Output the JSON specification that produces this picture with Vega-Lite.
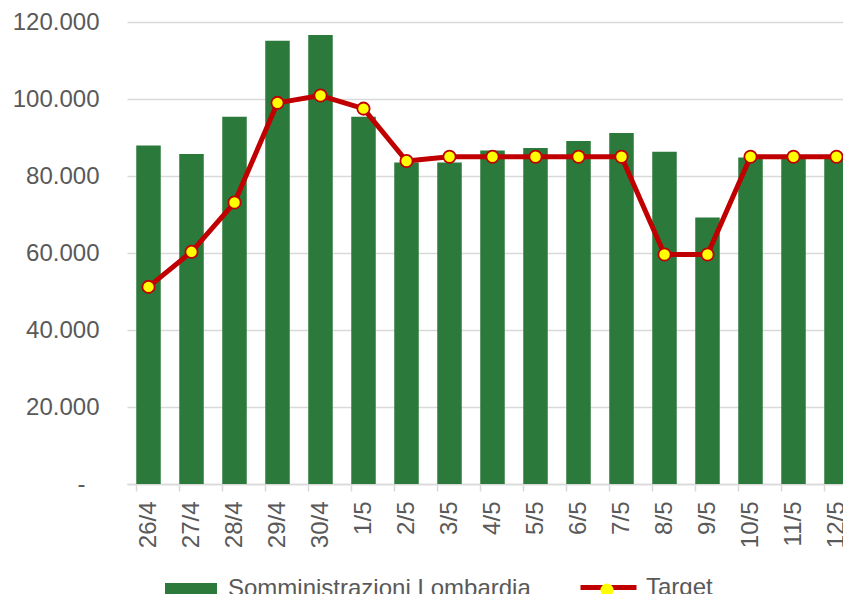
{
  "$schema": "https://vega.github.io/schema/vega-lite/v6.json",
  "autosize": "none",
  "width": 731,
  "height": 462,
  "padding": {"left": 127, "top": 22, "right": 0, "bottom": 110},
  "background": "white",
  "config": {
    "view": {"stroke": null},
    "font": "Liberation Sans",
    "axis": {"labelFont": "Liberation Sans", "labelColor": "#595959", "labelFontSize": 24, "title": null},
    "legend": {"labelFont": "Liberation Sans", "labelColor": "#595959", "labelFontSize": 24, "padding": 0, "symbolOffset": 0, "labelLimit": 0}
  },
  "data": {
    "values": [
      {"date": "26/4", "som": 87900, "target": 51200},
      {"date": "27/4", "som": 85700, "target": 60300},
      {"date": "28/4", "som": 95400, "target": 73100},
      {"date": "29/4", "som": 115100, "target": 99000},
      {"date": "30/4", "som": 116600, "target": 100900},
      {"date": "1/5", "som": 95400, "target": 97500},
      {"date": "2/5", "som": 83500, "target": 83900},
      {"date": "3/5", "som": 83500, "target": 85000},
      {"date": "4/5", "som": 86600, "target": 85000},
      {"date": "5/5", "som": 87300, "target": 85000},
      {"date": "6/5", "som": 89100, "target": 85000},
      {"date": "7/5", "som": 91200, "target": 85000},
      {"date": "8/5", "som": 86300, "target": 59600},
      {"date": "9/5", "som": 69200, "target": 59600},
      {"date": "10/5", "som": 84800, "target": 85000},
      {"date": "11/5", "som": 84600, "target": 85000},
      {"date": "12/5", "som": 84600, "target": 85000}
    ]
  },
  "layer": [
    {
      "mark": {"type": "bar"},
      "encoding": {
        "x": {
          "field": "date", "type": "nominal", "sort": null,
          "scale": {"paddingInner": 0.43, "paddingOuter": 0.215},
          "axis": {"orient": "bottom", "labelAngle": -90, "ticks": false, "tickSize": 0, "labelPadding": 17, "domainColor": "#D9D9D9", "domainWidth": 1.5, "grid": false}
        },
        "y": {
          "field": "som", "type": "quantitative",
          "scale": {"domain": [0, 120000], "nice": false},
          "axis": {"values": [0, 20000, 40000, 60000, 80000, 100000, 120000], "domain": false, "ticks": false,
                   "labelPadding": {"condition": {"test": "datum.value == 0", "value": 42}, "value": 28},
                   "gridColor": "#D9D9D9", "gridWidth": 1.5,
                   "labelExpr": "datum.value == 0 ? '-' : replace(format(datum.value, ',.0f'), ',', '.')"}
        },
        "fill": {
          "datum": "Somministrazioni Lombardia",
          "scale": {"range": ["#2B7A3B"]},
          "legend": {"orient": "none", "legendX": 38, "legendY": 541, "title": null, "symbolType": "M-1,-0.23H1V0.23H-1Z", "symbolSize": 2704, "symbolStrokeWidth": 0, "labelOffset": 11}
        }
      }
    },
    {
      "mark": {"type": "line", "color": "#C00000", "strokeWidth": 5, "strokeJoin": "round"},
      "encoding": {
        "x": {
          "field": "date", "type": "nominal", "sort": null,
          "scale": {"paddingInner": 0.43, "paddingOuter": 0.215},
          "axis": {"orient": "bottom", "bandPosition": 0, "labels": false, "domain": false, "ticks": true, "tickSize": 7, "tickColor": "#D9D9D9", "tickWidth": 1.5, "grid": false}
        },
        "y": {"field": "target", "type": "quantitative"},
        "stroke": {
          "datum": "Target",
          "scale": {"range": ["#C00000"]},
          "legend": {"orient": "none", "legendX": 451, "legendY": 535, "title": null, "symbolType": "M-1,0H1", "symbolSize": 3136, "symbolStrokeWidth": 5, "symbolFillColor": "transparent", "labelOffset": 7}
        }
      }
    },
    {
      "mark": {"type": "point", "filled": false, "fill": "#FFFF00", "fillOpacity": 1, "stroke": "#C00000", "strokeWidth": 1.8, "size": 150, "opacity": 1},
      "encoding": {
        "x": {"field": "date", "type": "nominal", "sort": null, "axis": null},
        "y": {"field": "target", "type": "quantitative"},
        "shape": {
          "datum": "TargetPt",
          "scale": {"range": ["circle"]},
          "legend": {"orient": "none", "legendX": 468, "legendY": 556, "title": null, "symbolSize": 170, "symbolFillColor": "#FFFF00", "symbolStrokeColor": "#C00000", "symbolStrokeWidth": 1.8, "labelExpr": "''"}
        }
      }
    }
  ],
  "resolve": {"axis": {"x": "independent"}}
}
